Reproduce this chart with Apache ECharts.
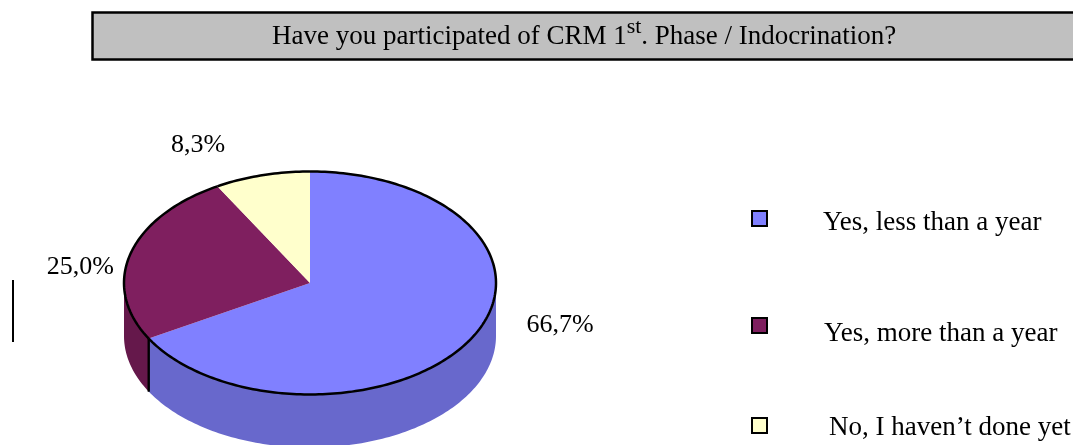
<!DOCTYPE html>
<html>
  <head>
    <meta charset="utf-8" />
    <title>CRM 1st Phase</title>
    <script src="https://cdn.jsdelivr.net/npm/echarts@6.0.0/dist/echarts.min.js"></script>
  </head>
  <body style="margin: 0">
    <div id="main" style="width: 1073px; height: 445px"></div>
    <script>
      // data
      var categories = ["Yes, less than a year", "Yes, more than a year", "No, I haven\u2019t done yet"];
      var shares = [66.7, 25.0, 8.3];
      var labels = ["66,7%", "25,0%", "8,3%"];

      var topColors = ["#8080ff", "#7f1f5f", "#ffffcc"];
      var sideColors = ["#6868cc", "#65184b", "#cccca3"];
      var font = '"Liberation Serif", "Times New Roman", serif';

      // 3d pie geometry
      var cx = 310, cy = 283, rx = 186, ry = 111.5, depth = 53;
      // label nudges from the slice mid point (Excel places them by itself)
      var labelNudge = [[89, -14], [-50, 13], [-64, -30]];

      var total = shares.reduce(function (a, b) { return a + b; }, 0);

      function pt(a, dy) {
        return [cx + rx * Math.sin(a), cy - ry * Math.cos(a) + (dy || 0)];
      }
      function arc(a0, a1, dy) {
        var pts = [];
        var n = Math.max(2, Math.ceil((a1 - a0) / 0.02));
        for (var k = 0; k <= n; k++) pts.push(pt(a0 + ((a1 - a0) * k) / n, dy));
        return pts;
      }

      function renderSlice(params, api) {
        var i = params.seriesIndex;
        var before = 0;
        for (var j = 0; j < i; j++) before += shares[j];
        var a0 = (before / total) * Math.PI * 2;
        var a1 = ((before + api.value(0)) / total) * Math.PI * 2;
        var children = [];

        // front side wall (angles between 90 and 270 degrees)
        var s0 = Math.max(a0, Math.PI / 2), s1 = Math.min(a1, Math.PI * 1.5);
        if (s1 > s0) {
          var side = arc(s0, s1, 0).concat(arc(s0, s1, depth).reverse());
          children.push({
            type: "polygon", z2: 1,
            shape: { points: side },
            style: { fill: sideColors[i] }
          });
          [a0, a1].forEach(function (a) {
            if (a > Math.PI / 2 && a < Math.PI * 1.5) {
              var p = pt(a);
              children.push({
                type: "line", z2: 5,
                shape: { x1: p[0], y1: p[1], x2: p[0], y2: p[1] + depth },
                style: { stroke: "#000", lineWidth: 2 }
              });
            }
          });
        }

        // top face
        children.push({
          type: "polygon", z2: 2,
          shape: { points: [[cx, cy]].concat(arc(a0, a1, 0)) },
          style: { fill: topColors[i] }
        });
        children.push({
          type: "polyline", z2: 6,
          shape: { points: arc(a0, a1, 0) },
          style: { stroke: "#000", lineWidth: 2.5, fill: null }
        });

        // percentage label
        var mid = pt((a0 + a1) / 2);
        children.push({
          type: "text", z2: 8,
          style: {
            text: labels[i],
            x: mid[0] + labelNudge[i][0],
            y: mid[1] + labelNudge[i][1],
            align: "center",
            verticalAlign: "middle",
            fill: "#000",
            fontSize: 26,
            fontFamily: font
          }
        });
        return { type: "group", children: children };
      }

      var legendTops = [209, 317, 414];
      var legendPadTop = [8, 16, 4];
      var legendPadLeft = [51, 52, 57];

      var option = {
        animation: false,
        backgroundColor: "#fff",
        title: {
          text: "{t|Have you participated of CRM 1}{s|st}{t|. Phase / Indocrination?}",
          left: 92,
          top: 18,
          backgroundColor: "#c0c0c0",
          borderColor: "#000",
          borderWidth: 2.5,
          padding: [4, 320, 2, 180],
          textStyle: {
            rich: {
              t: { fontFamily: font, fontSize: 27, fontWeight: "normal", color: "#000", lineHeight: 30 },
              s: { fontFamily: font, fontSize: 22, fontWeight: "normal", color: "#000", lineHeight: 10, padding: [0, 0, 20, 0] }
            }
          }
        },
        legend: categories.map(function (name, i) {
          return {
            data: [name],
            orient: "vertical",
            left: 751,
            top: legendTops[i],
            padding: 0,
            icon: "rect",
            itemWidth: 15,
            itemHeight: 15,
            selectedMode: false,
            itemStyle: { borderColor: "#000", borderWidth: 2 },
            formatter: "{n|{name}}",
            textStyle: {
              rich: {
                n: {
                  fontFamily: font,
                  fontSize: 27,
                  color: "#000",
                  padding: [legendPadTop[i], 0, 0, legendPadLeft[i]]
                }
              }
            }
          };
        }),
        graphic: [
          {
            type: "line",
            shape: { x1: 13, y1: 280, x2: 13, y2: 342 },
            style: { stroke: "#000", lineWidth: 2 }
          }
        ],
        series: categories.map(function (name, i) {
          return {
            type: "custom",
            name: name,
            coordinateSystem: "none",
            itemStyle: { color: topColors[i] },
            data: [[shares[i]]],
            renderItem: renderSlice
          };
        })
      };

      var myChart = echarts.init(document.getElementById("main"));
      myChart.setOption(option);
    </script>
  </body>
</html>
